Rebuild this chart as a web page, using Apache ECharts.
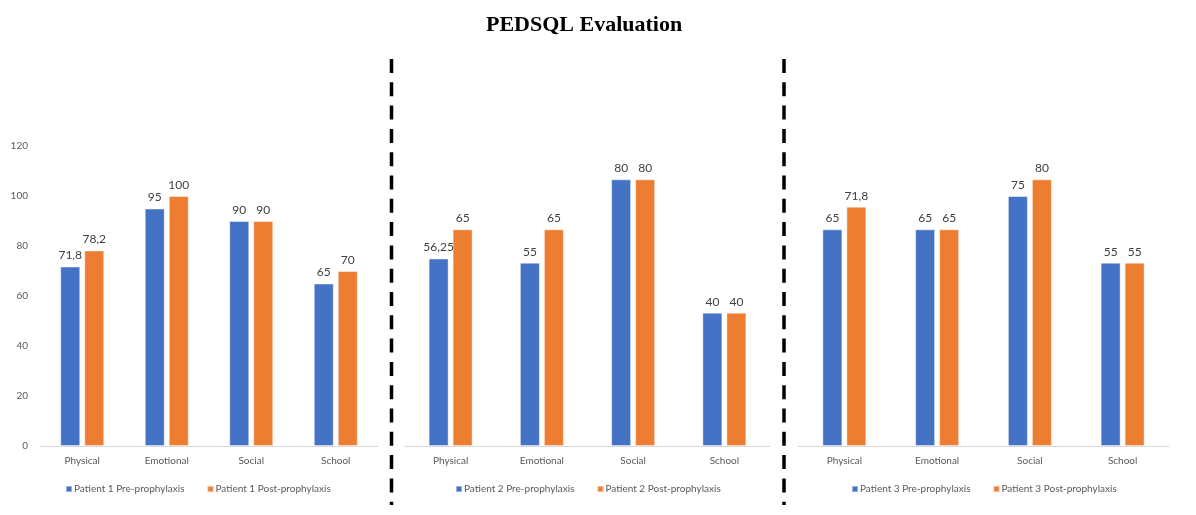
<!DOCTYPE html>
<html>
<head>
<meta charset="utf-8">
<script src="https://cdn.jsdelivr.net/npm/echarts@6/dist/echarts.min.js"></script>
<style>html,body{margin:0;padding:0;background:#fff;}#c{width:1196px;height:515px;}</style>
</head>
<body>
<div id="c"></div>
<script>
const title = 'PEDSQL Evaluation';
const categories = ['Physical', 'Emotional', 'Social', 'School'];
const p1Pre = [71.8, 95, 90, 65];
const p1Post = [78.2, 100, 90, 70];
const p2Pre = [56.25, 55, 80, 40];
const p2Post = [65, 65, 80, 40];
const p3Pre = [65, 65, 75, 55];
const p3Post = [71.8, 65, 80, 55];
const seriesNames = [
  ['Patient 1 Pre-prophylaxis', 'Patient 1 Post-prophylaxis'],
  ['Patient 2 Pre-prophylaxis', 'Patient 2 Post-prophylaxis'],
  ['Patient 3 Pre-prophylaxis', 'Patient 3 Post-prophylaxis']
];
const yMax = [120, 90, 90];

const BLUE = '#4472C4', ORANGE = '#ED7D31';
const FONT = 'Lato, "Open Sans", sans-serif';
const panels = [
  {left: 40, width: 338, legendLeft: 60},
  {left: 405, width: 365, legendLeft: 450},
  {left: 798, width: 371, legendLeft: 846}
];
const dataSets = [[p1Pre, p1Post], [p2Pre, p2Post], [p3Pre, p3Post]];

const fmt = p => String(p.value).replace('.', ',');

const grid = [], xAxis = [], yAxis = [], legend = [], series = [];
panels.forEach((p, i) => {
  grid.push({left: p.left, width: p.width, top: 146, bottom: 69, containLabel: false});
  xAxis.push({
    type: 'category', gridIndex: i, data: categories,
    axisLine: {lineStyle: {color: '#D9D9D9', width: 1}},
    axisTick: {show: false},
    axisLabel: {color: '#595959', fontSize: 10, fontFamily: FONT, margin: 10}
  });
  yAxis.push({
    type: 'value', gridIndex: i, min: 0, max: yMax[i], interval: 20,
    show: i === 0,
    axisLine: {show: false}, axisTick: {show: false},
    splitLine: {show: false},
    axisLabel: {color: '#595959', fontSize: 10, fontFamily: FONT, margin: 12}
  });
  legend.push({
    data: seriesNames[i], left: p.legendLeft, top: 479,
    icon: 'rect', itemWidth: 6, itemHeight: 6, itemGap: 22,
    textStyle: {color: '#595959', fontSize: 10, fontFamily: FONT, padding: [0, 0, 0, -3]}
  });
  [BLUE, ORANGE].forEach((col, k) => {
    series.push({
      type: 'bar', name: seriesNames[i][k], xAxisIndex: i, yAxisIndex: i,
      data: dataSets[i][k], barWidth: 20, barGap: '20%',
      itemStyle: {color: col, borderColor: 'rgba(255,255,255,0.45)', borderWidth: 1},
      label: {show: true, position: 'top', distance: 5, color: '#404040', fontSize: 12, fontFamily: FONT, formatter: fmt},
      animation: false
    });
  });
});

const chart = echarts.init(document.getElementById('c'), null, {renderer: 'canvas'});
chart.setOption({
  backgroundColor: '#fff',
  animation: false,
  title: {text: title, left: 481, top: 9,
    textStyle: {fontFamily: '"Liberation Serif", "Times New Roman", serif', fontWeight: 'bold', fontSize: 22, color: '#000'}},
  grid, xAxis, yAxis, legend, series,
  graphic: [391.5, 784].map(x => ({
    type: 'line', silent: true,
    shape: {x1: x, y1: 59, x2: x, y2: 505},
    style: {stroke: '#000', lineWidth: 3.5, lineDash: [14, 9.3]}
  }))
});
</script>
</body>
</html>
